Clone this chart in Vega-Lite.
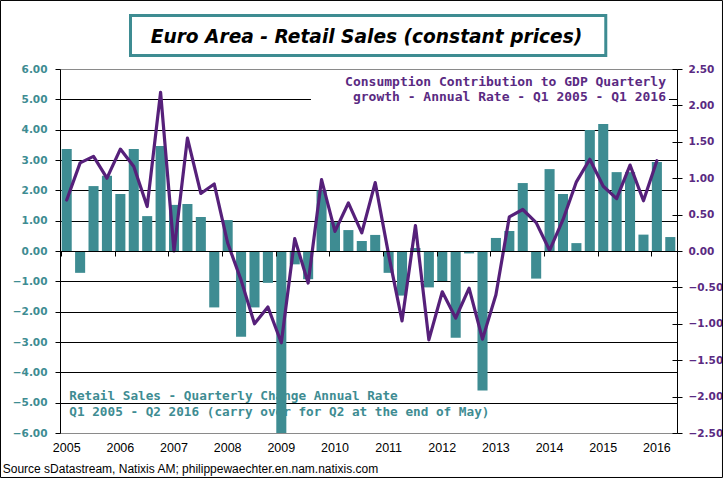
{
  "$schema": "https://vega.github.io/schema/vega-lite/v6.json",
  "width": 617,
  "height": 364,
  "autosize": {"type": "none"},
  "padding": {"left": 60, "top": 69, "right": 46, "bottom": 45},
  "background": "white",
  "config": {
    "view": {"stroke": "#8a8a8a", "strokeWidth": 1},
    "font": "DejaVu Sans"
  },
  "datasets": {
    "main": [
      {"q": "2005Q1", "retail": 3.36, "cons": 0.70},
      {"q": "2005Q2", "retail": -0.72, "cons": 1.21},
      {"q": "2005Q3", "retail": 2.14, "cons": 1.30},
      {"q": "2005Q4", "retail": 2.48, "cons": 1.00},
      {"q": "2006Q1", "retail": 1.88, "cons": 1.40},
      {"q": "2006Q2", "retail": 3.36, "cons": 1.16},
      {"q": "2006Q3", "retail": 1.15, "cons": 0.61},
      {"q": "2006Q4", "retail": 3.46, "cons": 2.18},
      {"q": "2007Q1", "retail": 1.52, "cons": 0.00},
      {"q": "2007Q2", "retail": 1.55, "cons": 1.55},
      {"q": "2007Q3", "retail": 1.12, "cons": 0.79},
      {"q": "2007Q4", "retail": -1.86, "cons": 0.92},
      {"q": "2008Q1", "retail": 1.02, "cons": 0.11},
      {"q": "2008Q2", "retail": -2.83, "cons": -0.40},
      {"q": "2008Q3", "retail": -1.86, "cons": -1.00},
      {"q": "2008Q4", "retail": -1.05, "cons": -0.77},
      {"q": "2009Q1", "retail": -6.3, "cons": -1.26},
      {"q": "2009Q2", "retail": -0.44, "cons": 0.17},
      {"q": "2009Q3", "retail": -0.93, "cons": -0.44},
      {"q": "2009Q4", "retail": 2.0, "cons": 0.98},
      {"q": "2010Q1", "retail": 0.95, "cons": 0.27},
      {"q": "2010Q2", "retail": 0.69, "cons": 0.66},
      {"q": "2010Q3", "retail": 0.33, "cons": 0.25},
      {"q": "2010Q4", "retail": 0.53, "cons": 0.94},
      {"q": "2011Q1", "retail": -0.72, "cons": -0.05},
      {"q": "2011Q2", "retail": -1.47, "cons": -0.96},
      {"q": "2011Q3", "retail": 0.1, "cons": 0.35},
      {"q": "2011Q4", "retail": -1.2, "cons": -1.22},
      {"q": "2012Q1", "retail": -0.99, "cons": -0.56},
      {"q": "2012Q2", "retail": -2.86, "cons": -0.92},
      {"q": "2012Q3", "retail": -0.08, "cons": -0.51},
      {"q": "2012Q4", "retail": -4.6, "cons": -1.21},
      {"q": "2013Q1", "retail": 0.43, "cons": -0.6},
      {"q": "2013Q2", "retail": 0.66, "cons": 0.47},
      {"q": "2013Q3", "retail": 2.24, "cons": 0.57},
      {"q": "2013Q4", "retail": -0.91, "cons": 0.39},
      {"q": "2014Q1", "retail": 2.70, "cons": 0.01},
      {"q": "2014Q2", "retail": 1.88, "cons": 0.43},
      {"q": "2014Q3", "retail": 0.26, "cons": 0.95},
      {"q": "2014Q4", "retail": 3.99, "cons": 1.26},
      {"q": "2015Q1", "retail": 4.19, "cons": 0.89},
      {"q": "2015Q2", "retail": 2.60, "cons": 0.72},
      {"q": "2015Q3", "retail": 2.60, "cons": 1.18},
      {"q": "2015Q4", "retail": 0.54, "cons": 0.69},
      {"q": "2016Q1", "retail": 2.93, "cons": 1.24},
      {"q": "2016Q2", "retail": 0.46, "cons": null}
    ]
  },
  "resolve": {"scale": {"x": "independent", "y": "independent"}},
  "layer": [
    {
      "data": {"name": "main"},
      "mark": {"type": "bar", "color": "#3e8c92", "clip": true},
      "encoding": {
        "x": {
          "field": "q", "type": "ordinal", "sort": null,
          "scale": {"type": "band", "paddingInner": 0.25, "paddingOuter": 0.125,
            "domain": ["2005Q1","2005Q2","2005Q3","2005Q4","2006Q1","2006Q2","2006Q3","2006Q4","2007Q1","2007Q2","2007Q3","2007Q4","2008Q1","2008Q2","2008Q3","2008Q4","2009Q1","2009Q2","2009Q3","2009Q4","2010Q1","2010Q2","2010Q3","2010Q4","2011Q1","2011Q2","2011Q3","2011Q4","2012Q1","2012Q2","2012Q3","2012Q4","2013Q1","2013Q2","2013Q3","2013Q4","2014Q1","2014Q2","2014Q3","2014Q4","2015Q1","2015Q2","2015Q3","2015Q4","2016Q1","2016Q2"]},
          "axis": {
            "orient": "bottom", "offset": -182, "title": null,
            "values": ["2005Q1","2006Q1","2007Q1","2008Q1","2009Q1","2010Q1","2011Q1","2012Q1","2013Q1","2014Q1","2015Q1","2016Q1"],
            "bandPosition": 0, "labelAngle": 0,
            "labelExpr": "slice(datum.label, 0, 4)",
            "labelPadding": 185, "tickSize": 5, "tickColor": "black", "tickWidth": 1,
            "domainColor": "black", "domainWidth": 1,
            "labelFont": "Liberation Sans", "labelFontSize": 12.5, "labelColor": "black",
            "grid": false, "zindex": 1
          }
        },
        "y": {
          "field": "retail", "type": "quantitative",
          "scale": {"domain": [-6, 6], "nice": false, "zero": false},
          "axis": {
            "orient": "left", "title": null,
            "values": [-6, -5, -4, -3, -2, -1, 0, 1, 2, 3, 4, 5, 6],
            "format": ".2f", "tickSize": 5, "tickColor": "black", "domainColor": "black",
            "labelColor": "#3e8c92", "labelFont": "DejaVu Sans", "labelFontWeight": "bold",
            "labelFontSize": 10.5, "labelPadding": 8,
            "grid": true,
            "gridColor": {"condition": {"test": "abs(datum.value) > 5.5", "value": "transparent"}, "value": "black"},
            "gridWidth": 1
          }
        }
      }
    },
    {
      "data": {"name": "main"},
      "transform": [{"filter": "datum.cons != null"}],
      "mark": {"type": "line", "color": "#56207a", "strokeWidth": 3.2, "strokeJoin": "round", "strokeCap": "round"},
      "encoding": {
        "x": {
          "field": "q", "type": "ordinal", "sort": null,
          "scale": {"type": "band", "paddingInner": 0.25, "paddingOuter": 0.125,
            "domain": ["2005Q1","2005Q2","2005Q3","2005Q4","2006Q1","2006Q2","2006Q3","2006Q4","2007Q1","2007Q2","2007Q3","2007Q4","2008Q1","2008Q2","2008Q3","2008Q4","2009Q1","2009Q2","2009Q3","2009Q4","2010Q1","2010Q2","2010Q3","2010Q4","2011Q1","2011Q2","2011Q3","2011Q4","2012Q1","2012Q2","2012Q3","2012Q4","2013Q1","2013Q2","2013Q3","2013Q4","2014Q1","2014Q2","2014Q3","2014Q4","2015Q1","2015Q2","2015Q3","2015Q4","2016Q1","2016Q2"]},
          "axis": null
        },
        "y": {
          "field": "cons", "type": "quantitative",
          "scale": {"domain": [-2.5, 2.5], "nice": false, "zero": false},
          "axis": {
            "orient": "right", "title": null,
            "values": [-2.5, -2, -1.5, -1, -0.5, 0, 0.5, 1, 1.5, 2, 2.5],
            "format": ".2f", "tickSize": 5, "tickColor": "black", "domainColor": "black",
            "labelColor": "#5a2a82", "labelFont": "DejaVu Sans", "labelFontWeight": "bold",
            "labelFontSize": 10.5, "labelPadding": 6, "grid": false
          }
        }
      }
    },
    {
      "data": {"values": [{}]},
      "encoding": {
        "x": {"datum": 0, "type": "quantitative", "scale": {"domain": [0, 46], "nice": false, "zero": false}, "axis": null},
        "y": {"datum": 0, "type": "quantitative", "scale": {"domain": [-6, 6], "nice": false, "zero": false},
          "axis": {"orient": "right", "title": null, "labels": false, "domain": false, "grid": false,
            "values": [-6, -4.8, -3.6, -2.4, -1.2, 0, 1.2, 2.4, 3.6, 4.8, 6],
            "tickSize": -5, "tickColor": "black"}}
      },
      "layer": [
        {
          "mark": {"type": "rect", "fill": "white", "stroke": null},
          "encoding": {
            "x": {"datum": 18.71, "type": "quantitative"},
            "x2": {"datum": 45.4},
            "y": {"datum": 5.93, "type": "quantitative"},
            "y2": {"datum": 4.81}
          }
        },
        {
          "mark": {"type": "rect", "fill": null, "stroke": "black", "strokeWidth": 1},
          "encoding": {
            "x": {"datum": -4.436, "type": "quantitative"},
            "x2": {"datum": 49.39},
            "y": {"datum": 8.259, "type": "quantitative"},
            "y2": {"datum": -7.467}
          }
        },
        {
          "mark": {"type": "rect", "fill": "white", "stroke": "#3e8c92", "strokeWidth": 3},
          "encoding": {
            "x": {"datum": 5.256, "type": "quantitative"},
            "x2": {"datum": 40.69},
            "y": {"datum": 7.764, "type": "quantitative"},
            "y2": {"datum": 6.445}
          }
        },
        {
          "mark": {"type": "text", "font": "DejaVu Sans", "fontWeight": "bold", "fontStyle": "italic", "fontSize": 18.6, "color": "black", "align": "center", "baseline": "alphabetic"},
          "encoding": {
            "x": {"datum": 22.85, "type": "quantitative"},
            "y": {"datum": 6.87, "type": "quantitative"},
            "text": {"value": "Euro Area - Retail Sales (constant prices)"}
          }
        },
        {
          "mark": {"type": "text", "font": "DejaVu Sans Mono", "fontWeight": "bold", "fontSize": 13, "color": "#5a2a82", "align": "right", "baseline": "alphabetic"},
          "encoding": {
            "x": {"datum": 45.18, "type": "quantitative"},
            "y": {"datum": 5.44, "type": "quantitative"},
            "text": {"value": "Consumption Contribution to GDP Quarterly"}
          }
        },
        {
          "mark": {"type": "text", "font": "DejaVu Sans Mono", "fontWeight": "bold", "fontSize": 13, "color": "#5a2a82", "align": "right", "baseline": "alphabetic"},
          "encoding": {
            "x": {"datum": 45.18, "type": "quantitative"},
            "y": {"datum": 4.95, "type": "quantitative"},
            "text": {"value": "growth - Annual Rate - Q1 2005 - Q1 2016"}
          }
        },
        {
          "mark": {"type": "text", "font": "DejaVu Sans Mono", "fontWeight": "bold", "fontSize": 12.7, "color": "#3e8c92", "align": "left", "baseline": "alphabetic"},
          "encoding": {
            "x": {"datum": 0.693, "type": "quantitative"},
            "y": {"datum": -4.90, "type": "quantitative"},
            "text": {"value": "Retail Sales - Quarterly Change Annual Rate"}
          }
        },
        {
          "mark": {"type": "text", "font": "DejaVu Sans Mono", "fontWeight": "bold", "fontSize": 12.7, "color": "#3e8c92", "align": "left", "baseline": "alphabetic"},
          "encoding": {
            "x": {"datum": 0.693, "type": "quantitative"},
            "y": {"datum": -5.44, "type": "quantitative"},
            "text": {"value": "Q1 2005 - Q2 2016 (carry over for Q2 at the end of May)"}
          }
        },
        {
          "mark": {"type": "text", "font": "Liberation Sans", "fontSize": 12, "color": "black", "align": "left", "baseline": "alphabetic"},
          "encoding": {
            "x": {"datum": -4.272, "type": "quantitative"},
            "y": {"datum": -7.33, "type": "quantitative"},
            "text": {"value": "Source sDatastream, Natixis AM; philippewaechter.en.nam.natixis.com"}
          }
        }
      ]
    }
  ]
}
